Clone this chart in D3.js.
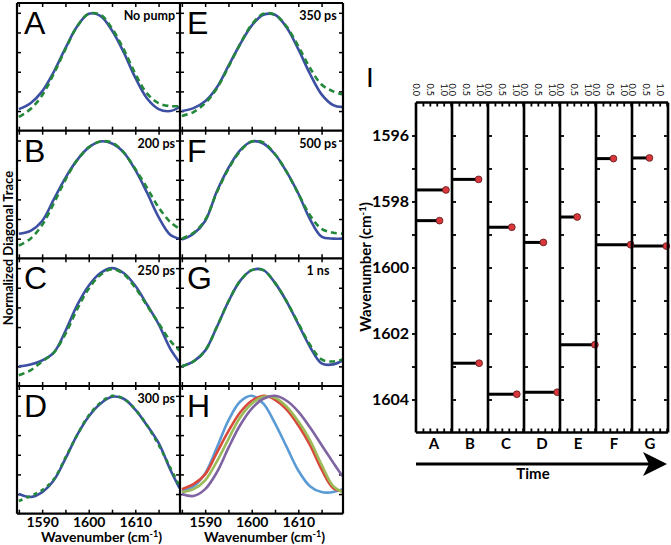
<!DOCTYPE html>
<html>
<head>
<meta charset="utf-8">
<script src="https://cdn.jsdelivr.net/npm/d3@7"></script>
<style>
body { margin: 0; background: #fff; }
svg { display: block; }
text { font-family: Lato, "Open Sans", sans-serif; font-weight: 700; fill: #000; }
.letter { font-family: "Liberation Sans", Arial, sans-serif; font-weight: 400; }
</style>
</head>
<body>
<div id="chart"></div>
<script>
// wavenumber grid (cm-1) that the traces were read at
var wavenumbers = [1585, 1587.5, 1590, 1592.5, 1595, 1597.5, 1600, 1602.5, 1605, 1607.5, 1610, 1612.5, 1615, 1617.5, 1619.5];

var panelLetters = ["A", "B", "C", "D", "E", "F", "G"];
var panelTimes = ["No pump", "200 ps", "250 ps", "300 ps", "350 ps", "500 ps", "1 ns"];

// solid (blue) traces
var traceA = [0.02, 0.08, 0.20, 0.40, 0.64, 0.86, 0.99, 0.97, 0.82, 0.60, 0.34, 0.13, 0.02, 0.00, 0.04];
var traceB = [0.05, 0.08, 0.18, 0.40, 0.62, 0.80, 0.93, 0.99, 0.97, 0.88, 0.70, 0.47, 0.22, 0.04, 0.00];
var traceC = [0.00, 0.02, 0.06, 0.14, 0.36, 0.62, 0.82, 0.95, 1.00, 0.95, 0.82, 0.63, 0.43, 0.18, 0.04];
var traceD = [0.00, -0.03, 0.02, 0.14, 0.36, 0.60, 0.79, 0.92, 0.99, 0.97, 0.86, 0.70, 0.52, 0.25, 0.06];
var traceE = [0.00, 0.03, 0.10, 0.24, 0.46, 0.68, 0.87, 0.98, 0.98, 0.85, 0.63, 0.38, 0.17, 0.06, 0.04];
var traceF = [-0.01, 0.05, 0.18, 0.48, 0.72, 0.90, 0.99, 0.97, 0.86, 0.68, 0.46, 0.20, 0.02, 0.00, 0.00];
var traceG = [0.00, 0.05, 0.16, 0.40, 0.66, 0.87, 0.98, 0.98, 0.85, 0.66, 0.43, 0.20, 0.03, 0.02, 0.06];

// dashed (green) traces
var fitA = [-0.06, 0.02, 0.16, 0.38, 0.63, 0.86, 0.99, 0.98, 0.84, 0.63, 0.38, 0.18, 0.08, 0.05, 0.05];
var fitB = [-0.07, 0.00, 0.14, 0.36, 0.60, 0.80, 0.93, 0.99, 0.98, 0.88, 0.71, 0.52, 0.32, 0.17, 0.10];
var fitC = [-0.09, -0.04, 0.05, 0.14, 0.33, 0.58, 0.79, 0.93, 0.99, 0.94, 0.80, 0.62, 0.44, 0.26, 0.16];
var fitD = [-0.07, -0.02, 0.04, 0.15, 0.37, 0.60, 0.80, 0.93, 1.00, 0.97, 0.86, 0.70, 0.50, 0.27, 0.08];
var fitE = [-0.05, -0.01, 0.08, 0.23, 0.45, 0.68, 0.88, 0.99, 0.98, 0.86, 0.66, 0.44, 0.27, 0.20, 0.17];
var fitF = [0.00, 0.06, 0.19, 0.47, 0.71, 0.89, 0.99, 0.98, 0.86, 0.68, 0.46, 0.24, 0.10, 0.06, 0.05];
var fitG = [0.00, 0.05, 0.16, 0.40, 0.66, 0.87, 0.98, 0.98, 0.85, 0.66, 0.44, 0.22, 0.07, 0.05, 0.07];

// panel H overlay
var overlayColors = ["#5b9bd5", "#d9483b", "#9bbb59", "#8064a2"];
var overlay1 = [0.03, 0.08, 0.21, 0.47, 0.75, 0.94, 1.00, 0.92, 0.72, 0.48, 0.24, 0.08, 0.02, 0.02, 0.05];
var overlay2 = [0.05, 0.10, 0.20, 0.42, 0.64, 0.83, 0.95, 1.00, 0.96, 0.86, 0.70, 0.50, 0.25, 0.06, 0.03];
var overlay3 = [0.02, 0.05, 0.14, 0.33, 0.56, 0.78, 0.92, 0.99, 0.98, 0.89, 0.74, 0.55, 0.30, 0.08, 0.02];
var overlay4 = [0.00, -0.02, 0.05, 0.22, 0.47, 0.70, 0.87, 0.97, 1.00, 0.95, 0.84, 0.68, 0.50, 0.32, 0.18];

// panel I: peak positions and amplitudes
var columns = ["A", "B", "C", "D", "E", "F", "G"];
var peakCol = ["A", "A", "B", "B", "C", "C", "D", "D", "E", "E", "F", "F", "G", "G"];
var peakPos = [1597.65, 1598.58, 1597.33, 1602.9, 1598.78, 1603.84, 1599.24, 1603.78, 1598.47, 1602.34, 1596.7, 1599.31, 1596.68, 1599.35];
var peakAmp = [1.08, 0.85, 0.96, 0.98, 0.86, 1.04, 0.70, 1.20, 0.62, 1.26, 0.63, 1.25, 0.63, 1.24];
var ampTicks = [0, 0.5, 1.0];
var waveTicks = [1596, 1598, 1600, 1602, 1604];


var W = 671, H = 545;
var svg = d3.select("#chart").append("svg").attr("width", W).attr("height", H);

var traces = [traceA, traceB, traceC, traceD, traceE, traceF, traceG];
var fits = [fitA, fitB, fitC, fitD, fitE, fitF, fitG];
var overlays = [overlay1, overlay2, overlay3, overlay4];

// left grid layout
var colX = [17, 180, 343];
var rowY = [3, 130.7, 258.3, 386, 513.7];

function panel(col, row, idx) {
	var x = d3.scaleLinear().domain([1584.6, 1619.6]).range([colX[col], colX[col + 1]]);
	var y = d3.scaleLinear().domain([-0.2, 1.1]).range([rowY[row + 1], rowY[row]]);
	var g = svg.append("g");
	var cid = "clip" + idx;
	svg.append("clipPath").attr("id", cid)
		.append("rect")
		.attr("x", colX[col]).attr("y", rowY[row])
		.attr("width", colX[col + 1] - colX[col]).attr("height", rowY[row + 1] - rowY[row]);

	// inward ticks on all sides
	var tx = d3.range(1585, 1620, 5);
	var ty = d3.range(0, 1.01, 0.2);
	g.append("g").attr("transform", "translate(0," + rowY[row + 1] + ")")
		.call(d3.axisBottom(x).tickValues(tx).tickSizeInner(-4).tickSizeOuter(0).tickFormat(""));
	g.append("g").attr("transform", "translate(0," + rowY[row] + ")")
		.call(d3.axisTop(x).tickValues(tx).tickSizeInner(-4).tickSizeOuter(0).tickFormat(""));
	g.append("g").attr("transform", "translate(" + colX[col] + ",0)")
		.call(d3.axisLeft(y).tickValues(ty).tickSizeInner(-4).tickSizeOuter(0).tickFormat(""));
	g.append("g").attr("transform", "translate(" + colX[col + 1] + ",0)")
		.call(d3.axisRight(y).tickValues(ty).tickSizeInner(-4).tickSizeOuter(0).tickFormat(""));
	g.selectAll(".domain").remove();
	g.selectAll(".tick line").attr("stroke", "#000").attr("stroke-width", 1.5);

	var line = d3.line()
		.x(function(d, i) { return x(wavenumbers[i]); })
		.y(function(d) { return y(d); })
		.curve(d3.curveCatmullRom);

	var plot = g.append("g").attr("clip-path", "url(#" + cid + ")");
	if (idx < 7) {
		plot.append("path").datum(traces[idx])
			.attr("d", line).attr("fill", "none")
			.attr("stroke", "#3c4fa3").attr("stroke-width", 2.6);
		plot.append("path").datum(fits[idx])
			.attr("d", line).attr("fill", "none")
			.attr("stroke", "#24883a").attr("stroke-width", 2.6)
			.attr("stroke-dasharray", idx == 3 ? "4,4" : "6,4");
		g.append("text")
			.attr("x", col == 0 ? colX[col + 1] - 5 : colX[col] + 138)
			.attr("y", rowY[row] + 17)
			.attr("text-anchor", col == 0 ? "end" : "middle")
			.style("font-size", "12.5px")
			.text(panelTimes[idx]);
	} else {
		overlays.forEach(function(o, k) {
			plot.append("path").datum(o)
				.attr("d", line).attr("fill", "none")
				.attr("stroke", overlayColors[k]).attr("stroke-width", 2.6);
		});
	}
	g.append("text").attr("class", "letter")
		.attr("x", colX[col] + 7).attr("y", rowY[row] + 31)
		.style("font-size", "32px")
		.text(idx < 7 ? panelLetters[idx] : "H");

	// bottom row: wavenumber labels
	if (row == 3) {
		var ax = g.append("g").attr("transform", "translate(0," + rowY[4] + ")")
			.call(d3.axisBottom(x).tickValues([1590, 1600, 1610]).tickSize(0).tickPadding(3).tickFormat(d3.format("d")));
		ax.select(".domain").remove();
		ax.selectAll("text").style("font-size", "14px").style("font-family", "Lato, sans-serif").style("font-weight", 700);
		var lab = g.append("text")
			.attr("x", (colX[col] + colX[col + 1]) / 2 + 3)
			.attr("y", 542)
			.attr("text-anchor", "middle")
			.style("font-size", "14px");
		lab.append("tspan").text("Wavenumber (cm");
		lab.append("tspan").attr("dy", -5).style("font-size", "9px").text("-1");
		lab.append("tspan").attr("dy", 5).text(")");
	}
}

for (var i = 0; i < 8; i++) {
	panel(Math.floor(i / 4), i % 4, i);
}

// frame of the grid
for (var r = 0; r < 5; r++) {
	svg.append("line").attr("x1", colX[0]).attr("x2", colX[2]).attr("y1", rowY[r]).attr("y2", rowY[r])
		.attr("stroke", "#000").attr("stroke-width", 2.2);
}
colX.forEach(function(cx) {
	svg.append("line").attr("x1", cx).attr("x2", cx).attr("y1", rowY[0]).attr("y2", rowY[4])
		.attr("stroke", "#000").attr("stroke-width", 2.2);
});

svg.append("text")
	.attr("transform", "translate(13,248) rotate(-90)")
	.attr("text-anchor", "middle")
	.style("font-size", "13px")
	.text("Normalized Diagonal Trace");


// ---------- panel I ----------
var colScale = d3.scaleBand().domain(columns).range([416, 668]).paddingInner(0).paddingOuter(0);
var yI = d3.scaleLinear().domain([1595, 1605]).range([102.5, 432.5]);
var ampScale = d3.scaleLinear().domain([0, 1.3]).range([0, colScale.bandwidth()]);
var gi = svg.append("g");

// left axis with labels
var yAx = gi.append("g").attr("transform", "translate(416,0)")
	.call(d3.axisLeft(yI).tickValues(d3.range(1596, 1605, 1)).tickSize(4).tickPadding(3)
		.tickFormat(function(d) { return waveTicks.indexOf(d) >= 0 ? d : ""; }));
yAx.select(".domain").remove();
yAx.selectAll("text").style("font-size", "16px").style("font-family", "Lato, sans-serif").style("font-weight", 700);

columns.forEach(function(c, k) {
	var x0 = colScale(c);
	if (k > 0) {
		gi.append("g").attr("transform", "translate(" + x0 + ",0)")
			.call(d3.axisRight(yI).tickValues(d3.range(1596, 1605, 1)).tickSize(4).tickFormat(""))
			.select(".domain").remove();
	}
	var xa = d3.scaleLinear().domain(ampScale.domain()).range([x0, x0 + colScale.bandwidth()]);
	var top = gi.append("g").attr("transform", "translate(0,102.5)")
		.call(d3.axisTop(xa).tickValues([0.25, 0.5, 0.75, 1.0, 1.25]).tickSizeInner(-4).tickSizeOuter(0).tickFormat(""));
	top.select(".domain").remove();
	var bot = gi.append("g").attr("transform", "translate(0,432.5)")
		.call(d3.axisBottom(xa).tickValues([0.25, 0.5, 0.75, 1.0, 1.25]).tickSizeInner(-4).tickSizeOuter(0).tickFormat(""));
	bot.select(".domain").remove();
	gi.selectAll(".amp" + k).data(ampTicks).enter().append("text")
		.attr("transform", function(d) { return "translate(" + xa(d) + ",96) rotate(90)"; })
		.attr("text-anchor", "end")
		.attr("dy", "0.35em")
		.style("font-size", "9px")
		.style("font-weight", 400)
		.text(d3.format(".1f"));
	gi.append("text")
		.attr("x", x0 + colScale.bandwidth() / 2).attr("y", 449)
		.attr("text-anchor", "middle")
		.style("font-size", "15px")
		.text(c);
});
// right edge ticks
gi.append("g").attr("transform", "translate(668,0)")
	.call(d3.axisLeft(yI).tickValues(d3.range(1596, 1605, 1)).tickSize(4).tickFormat(""))
	.select(".domain").remove();
gi.selectAll(".tick line").attr("stroke", "#000").attr("stroke-width", 1.8);

// stems and dots
peakPos.forEach(function(p, k) {
	var x0 = colScale(peakCol[k]);
	gi.append("line")
		.attr("x1", x0).attr("x2", x0 + ampScale(peakAmp[k]))
		.attr("y1", yI(p)).attr("y2", yI(p))
		.attr("stroke", "#000").attr("stroke-width", 3);
});
peakPos.forEach(function(p, k) {
	var x0 = colScale(peakCol[k]);
	gi.append("circle")
		.attr("cx", x0 + ampScale(peakAmp[k])).attr("cy", yI(p)).attr("r", 3.4)
		.attr("fill", "#d9373b").attr("stroke", "#5a1a1a").attr("stroke-width", 0.8);
});

// frame lines
columns.concat(["end"]).forEach(function(c) {
	var x0 = c == "end" ? 668 : colScale(c);
	gi.append("line").attr("x1", x0).attr("x2", x0).attr("y1", 102.5).attr("y2", 432.5)
		.attr("stroke", "#000").attr("stroke-width", 2.6);
});
[102.5, 432.5].forEach(function(yy) {
	gi.append("line").attr("x1", 416).attr("x2", 668).attr("y1", yy).attr("y2", yy)
		.attr("stroke", "#000").attr("stroke-width", 2.6);
});

var ylab = gi.append("text")
	.attr("transform", "translate(371,267) rotate(-90)")
	.attr("text-anchor", "middle")
	.style("font-size", "15px");
ylab.append("tspan").text("Wavenumber (cm");
ylab.append("tspan").attr("dy", -5).style("font-size", "9.5px").text("-1");
ylab.append("tspan").attr("dy", 5).text(")");

gi.append("text").attr("class", "letter")
	.attr("x", 366).attr("y", 87).style("font-size", "28px").text("I");

// time arrow
gi.append("line").attr("x1", 416).attr("x2", 650).attr("y1", 464).attr("y2", 464)
	.attr("stroke", "#000").attr("stroke-width", 3);
gi.append("polygon")
	.attr("points", "643,452 667,464 643,476 649,464")
	.attr("fill", "#000");
gi.append("text").attr("x", 533).attr("y", 479)
	.attr("text-anchor", "middle").style("font-size", "15px").text("Time");
</script>
</body>
</html>
